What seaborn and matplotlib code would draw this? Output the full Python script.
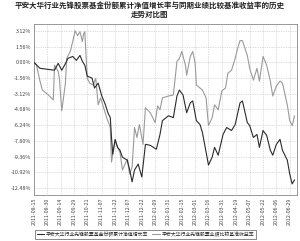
import pandas as pd
import numpy as np
import seaborn as sns
import matplotlib.pyplot as plt

# --- dữ liệu (ngày giao dịch, %) ---
fund_days = [0, 5, 17, 20, 23, 27, 28, 32, 35, 38, 40, 42, 44, 48, 50, 53, 56, 59, 61, 63,
             64, 65, 67, 69, 71, 73, 77, 79, 81, 83, 86, 89, 92, 96, 101, 104, 106, 111, 115, 118,
             120, 123, 126, 129, 131, 134, 137, 139, 144, 147, 149, 152, 156, 159, 163, 166, 170, 172, 176, 178,
             181, 184, 186, 189, 192, 195, 197, 200, 203, 205, 209, 211, 213, 215]
fund_vals = [0.00, -0.59, -0.78, -0.10, -0.78, 0.10, 0.39, 0.59, 0.20, 0.69, 0.10, -0.29, -1.37, -1.57, -2.55, -2.06, -3.34, -4.22, -5.00, -5.49,
             -7.46, -9.12, -7.65, -8.44, -8.73, -9.42, -9.71, -10.69, -11.87, -10.69, -10.10, -11.38, -8.14, -8.24, -8.63, -7.16, -5.79, -5.30, -5.49, -3.34,
             -2.75, -3.24, -5.00, -4.02, -3.83, -5.79, -6.18, -6.97, -10.20, -9.42, -8.44, -9.22, -7.16, -6.47, -6.77, -6.18, -4.02, -3.83, -5.98, -6.28,
             -7.46, -7.16, -8.44, -6.77, -7.26, -8.73, -9.22, -8.14, -7.65, -8.73, -9.71, -11.09, -12.07, -11.67]

bench_days = [0, 2, 5, 7, 12, 16, 17, 20, 21, 23, 26, 27, 30, 32, 34, 36, 38, 40, 41, 42,
              44, 46, 49, 51, 53, 55, 58, 60, 63, 64, 67, 69, 71, 73, 77, 79, 81, 83, 85, 87,
              90, 92, 96, 100, 102, 104, 106, 111, 115, 118, 120, 122, 125, 126, 129, 131, 133, 134, 137, 139,
              142, 144, 147, 149, 152, 155, 158, 160, 163, 166, 168, 170, 172, 176, 178, 181, 184, 186, 189, 192,
              195, 197, 200, 203, 205, 209, 211, 213, 215]
bench_vals = [0.00, -0.20, -1.86, -2.75, -3.24, -3.73, -0.29, -0.88, -1.57, -4.81, -2.06, 0.39, 1.08, 2.06, 3.14, 2.65, 3.04, 2.06, 2.84, 3.04,
              -1.57, -2.06, -2.26, -1.57, -4.22, -3.53, -4.71, -5.49, -6.47, -9.91, -7.75, -8.44, -8.93, -10.69, -9.61, -11.09, -10.40, -6.47, -7.46, -6.18,
              -8.14, -4.51, -5.00, -5.98, -4.32, -4.71, -3.53, -3.34, -3.24, 0.10, 0.39, 1.08, -0.29, -1.28, 0.59, 1.08, -0.10, -2.26, -2.55, -2.75,
              -3.53, -6.28, -5.49, -4.22, -4.71, -2.84, -2.55, -1.08, -0.78, 0.39, 1.37, 2.16, 2.16, 0.69, -0.59, -1.77, -0.59, -1.86, 0.59, -0.29,
              -1.86, -3.34, -2.35, -1.86, -2.06, -4.22, -5.79, -6.28, -5.30]

tick_days = [0, 11, 22, 33, 44, 56, 67, 78, 89, 100, 111, 122, 133, 144, 155, 167, 178, 189, 200, 211]
tick_labels = ["2011-08-15", "2011-08-30", "2011-09-14", "2011-09-29", "2011-10-21", "2011-11-07",
               "2011-11-22", "2011-12-07", "2011-12-22", "2012-01-09", "2012-01-31", "2012-02-15",
               "2012-03-01", "2012-03-16", "2012-03-31", "2012-04-19", "2012-05-07", "2012-05-22",
               "2012-06-06", "2012-06-29"]
y_ticks = [3.12, 1.56, 0.00, -1.56, -3.12, -4.68, -6.24, -7.80, -9.36, -10.92, -12.48]

fund_name = "平安大华行业先锋股票基金份额累计净值增长率"
bench_name = "平安大华行业先锋股票业绩比较基准收益率"
title = "平安大华行业先锋股票基金份额累计净值增长率与同期业绩比较基准收益率的历史\n走势对比图"

df = pd.concat([
    pd.DataFrame({"day": fund_days, "val": fund_vals, "series": fund_name}),
    pd.DataFrame({"day": bench_days, "val": bench_vals, "series": bench_name}),
])

sns.set_style("white")
plt.rcParams['font.family'] = ['Noto Sans CJK SC', 'DejaVu Sans']

fig = plt.figure(figsize=(3.0, 2.41), dpi=100)
ax = fig.add_axes([0.113, 0.191, 0.877, 0.709])

sns.lineplot(data=df, x="day", y="val", hue="series", sort=False,
             palette={fund_name: "#2b2b2b", bench_name: "#9a9a9a"},
             linewidth=0.8, ax=ax, legend=False)
# đường quỹ nằm trên
ax.lines[0].set_zorder(3)

ax.set_xlim(0, 217)
ax.set_ylim(-13.17, 3.80)
ax.set_xticks(tick_days)
ax.set_xticklabels(tick_labels, rotation=90, fontsize=3.8, color="#444444")
ax.set_yticks(y_ticks)
ax.set_yticklabels([f"{v:.2f}%" for v in y_ticks], fontsize=3.9, color="#444444")
ax.tick_params(length=0, pad=2)
ax.set_xlabel("")
ax.set_ylabel("")
ax.grid(True, linestyle=(0, (1, 1.5)), color="#bdbdbd", linewidth=0.5)
for s in ax.spines.values():
    s.set_color("#888888")
    s.set_linewidth(0.6)

fig.text(0.5, 0.995, title, ha="center", va="top", fontsize=5.4, fontweight="bold",
         linespacing=1.3, color="#222222")

handles = [plt.Line2D([], [], color="#2b2b2b", lw=0.8),
           plt.Line2D([], [], color="#9a9a9a", lw=0.8)]
leg = fig.legend(handles, [fund_name, bench_name], loc="lower left",
                 bbox_to_anchor=(0.11, 0.0), ncol=2, fontsize=3.5, frameon=True,
                 fancybox=False, handlelength=1.5, borderpad=0.3, columnspacing=0.8,
                 handletextpad=0.4)
leg.get_frame().set_edgecolor("#333333")
leg.get_frame().set_linewidth(0.5)

fig.savefig("out.png", dpi=100)
